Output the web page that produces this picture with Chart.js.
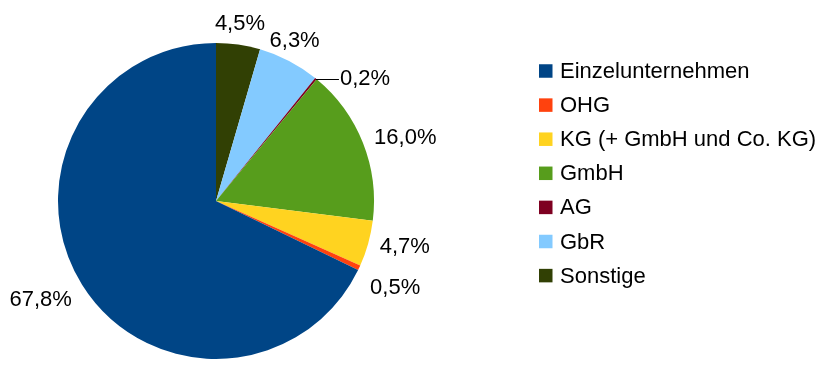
<!DOCTYPE html>
<html>
<head>
<meta charset="utf-8">
<script src="https://cdn.jsdelivr.net/npm/chart.js@4/dist/chart.umd.min.js"></script>
<style>
  html, body { margin: 0; padding: 0; background: #ffffff; }
  #wrap { width: 831px; height: 368px; }
</style>
</head>
<body>
<div id="wrap"><canvas id="c" width="831" height="368"></canvas></div>
<script>
const categories = ['Einzelunternehmen', 'OHG', 'KG (+ GmbH und Co. KG)', 'GmbH', 'AG', 'GbR', 'Sonstige'];
const shares = [67.8, 0.5, 4.7, 16.0, 0.2, 6.3, 4.5];
const sliceColors = ['#004586', '#ff420e', '#ffd320', '#579d1c', '#7e0021', '#83caff', '#314004'];

const FONT = '"Liberation Sans", Arial, sans-serif';
const fmt = v => v.toFixed(1).replace('.', ',') + '%';

// LibreOffice draws counter-clockwise from 12 o'clock; Chart.js draws clockwise,
// so feed the slices in reverse order.
const revValues = shares.slice().reverse();
const revLabels = categories.slice().reverse();
const revColors = sliceColors.slice().reverse();

const labelPlugin = {
  id: 'pieLabels',
  afterDatasetsDraw(chart) {
    const ctx = chart.ctx;
    const meta = chart.getDatasetMeta(0);
    ctx.save();
    ctx.font = '22px ' + FONT;
    ctx.fillStyle = '#000000';
    meta.data.forEach((arc, i) => {
      const v = revValues[i];
      const txt = fmt(v);
      const mid = (arc.startAngle + arc.endAngle) / 2;
      const r = arc.outerRadius;
      const cx = arc.x, cy = arc.y;
      if (v < 0.3) {
        // tiny slice: horizontal leader line
        const px = cx + Math.cos(mid) * r;
        const py = cy + Math.sin(mid) * r;
        ctx.strokeStyle = '#000000';
        ctx.lineWidth = 1;
        ctx.beginPath();
        ctx.moveTo(px, Math.round(py) + 0.5);
        ctx.lineTo(px + 23, Math.round(py) + 0.5);
        ctx.stroke();
        ctx.textAlign = 'left';
        ctx.textBaseline = 'middle';
        ctx.fillText(txt, px + 24, py);
        return;
      }
      const d = 12;
      const px = cx + Math.cos(mid) * (r + d);
      const py = cy + Math.sin(mid) * (r + d);
      // angle from 12 o'clock, clockwise, degrees
      let th = (mid * 180 / Math.PI + 90) % 360;
      if (th < 0) th += 360;
      let align, base, yOff = 0;
      if (th <= 30 || th >= 330) { align = 'center'; base = 'bottom'; }
      else if (th < 67.5) { align = 'left'; base = 'bottom'; }
      else if (th <= 112.5) { align = 'left'; base = 'middle'; }
      else if (th < 157.5) { align = 'left'; base = 'top'; yOff = 6; }
      else if (th <= 202.5) { align = 'center'; base = 'top'; }
      else if (th < 247.5) { align = 'right'; base = 'top'; }
      else if (th <= 292.5) { align = 'right'; base = 'middle'; }
      else { align = 'right'; base = 'bottom'; }
      ctx.textAlign = align;
      ctx.textBaseline = base;
      const dy = base === 'bottom' ? 2 : (base === 'top' ? -2 : 0);
      ctx.fillText(txt, px, py + dy + yOff);
    });
    ctx.restore();
  }
};

const legendPlugin = {
  id: 'sideLegend',
  afterDraw(chart) {
    const ctx = chart.ctx;
    ctx.save();
    ctx.font = '22px ' + FONT;
    ctx.textBaseline = 'middle';
    ctx.textAlign = 'left';
    const x0 = 539, y0 = 71, step = 34.1, sq = 13.5;
    categories.forEach((name, i) => {
      const y = y0 + i * step;
      ctx.fillStyle = sliceColors[i];
      ctx.fillRect(x0, y - sq / 2, sq, sq);
      ctx.fillStyle = '#000000';
      ctx.fillText(name, x0 + 21, y + 1);
    });
    ctx.restore();
  }
};

new Chart(document.getElementById('c'), {
  type: 'pie',
  data: {
    labels: revLabels,
    datasets: [{
      data: revValues,
      backgroundColor: revColors,
      borderWidth: 0
    }]
  },
  options: {
    responsive: false,
    animation: false,
    layout: { padding: { left: 58, right: 457, top: 43, bottom: 9 } },
    plugins: {
      legend: { display: false },
      tooltip: { enabled: false }
    }
  },
  plugins: [labelPlugin, legendPlugin]
});
</script>
</body>
</html>
